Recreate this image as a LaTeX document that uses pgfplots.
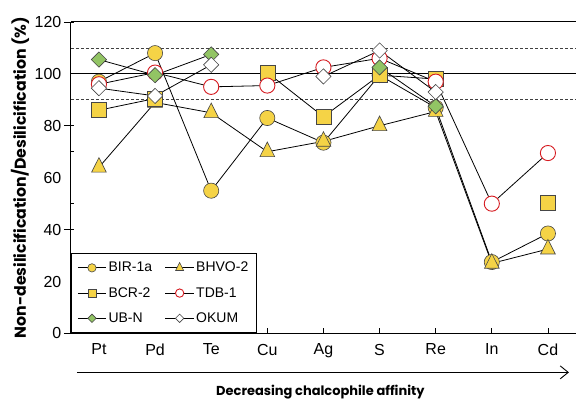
\documentclass[border=0pt]{standalone}
\usepackage{pgfplots}
\pgfplotsset{compat=1.18}
\usepackage{pgfplotstable}
\usetikzlibrary{arrows.meta}
\usepackage{fontspec}
\setmainfont{Liberation Sans}
\newfontfamily\labelfont{Poppins}
\definecolor{myyellow}{RGB}{245,211,70}
\definecolor{mygreen}{RGB}{146,196,100}
\definecolor{myred}{RGB}{214,26,32}
\definecolor{edge}{RGB}{70,70,70}

\pgfplotstableread{
x BIR BHVO BCR TDB UBN OKUM
0 97 64 86 96 105.5 94.5
1 108 89 90.5 100.5 99.5 91.5
2 55 85 nan 95 107.5 103.5
3 83 70 100.5 95.5 nan nan
4 73.5 74 83.5 102.5 nan 99
5 99.5 80 99.5 106 102.5 109
6 87 85.5 98 97 87.5 93
7 27.5 27 nan 50 nan nan
8 38.5 32.5 50.5 69.5 nan nan
}\data

\begin{document}
\begin{tikzpicture}
\begin{axis}[
  scale only axis,
  width=506pt, height=312pt,
  xmin=-0.5, xmax=8.5, ymin=0, ymax=120,
  separate axis lines,
  axis x line*=box, axis y line*=left,
  xtick={0,...,8},
  xticklabels={Pt,Pd,Te,Cu,Ag,S,Re,In,Cd},
  xtick pos=bottom,
  ytick={0,20,...,120},
  minor y tick num=1,
  ytick pos=left,
  tick align=inside,
  major tick length=5pt,
  minor tick length=3pt,
  major y tick style={xshift=-7pt, scale=2},
  axis line style={line width=1pt},
  tick style={black, line width=0.8pt},
  /pgf/number format/assume math mode=true,
  tick label style={font=\fontsize{16}{18}\selectfont},
  xticklabel style={yshift=-7pt},
  yticklabel style={xshift=-6pt},
  every axis y label/.style={at={(axis description cs:-0.1008,0.5)}, rotate=90, anchor=center},
  ylabel={\labelfont\bfseries\fontsize{15.8}{17}\selectfont Non-desilicification/Desilicification (\%)},
  every axis x label/.style={at={(axis description cs:0.494,-0.2003)}, anchor=base},
  xlabel={\labelfont\bfseries\fontsize{13}{15}\selectfont Decreasing chalcophile affinity},
  unbounded coords=jump,
  clip=false,
  legend columns=2,
  legend cell align=left,
  legend style={at={(0,0)}, anchor=south west, draw=black, line width=1pt,
    font=\fontsize{14}{16}\selectfont, inner xsep=6pt, inner ysep=7pt,
    row sep=10pt,
    /tikz/every even column/.append style={column sep=11pt}},
  legend image code/.code={\draw[mark repeat=2,mark phase=2, line width=0.8pt] plot coordinates {(0cm,0cm) (0.5cm,0cm) (1cm,0cm)};},
  legend image post style={every mark/.append style={scale=0.55}},
]
\addplot[forget plot, black, line width=0.8pt] coordinates {(-0.5,100) (8.5,100)};
\addplot[forget plot, black!75, line width=0.8pt, dash pattern=on 3pt off 2pt] coordinates {(-0.5,110) (8.5,110)};
\addplot[forget plot, black!75, line width=0.8pt, dash pattern=on 3pt off 2pt] coordinates {(-0.5,90) (8.5,90)};

\addplot[black, line width=0.8pt, mark=*, mark size=7.6pt, mark options={fill=myyellow, draw=edge, line width=0.6pt}] table[x=x,y=BIR] {\data};
\addlegendentry{BIR-1a}
\addplot[black, line width=0.8pt, mark=triangle*, mark size=8.5pt, mark options={fill=myyellow, draw=edge, line width=0.6pt, yscale=1.15}] table[x=x,y=BHVO] {\data};
\addlegendentry{BHVO-2}
\addplot[black, line width=0.8pt, mark=square*, mark size=7.5pt, mark options={fill=myyellow, draw=edge, line width=0.6pt}] table[x=x,y=BCR] {\data};
\addlegendentry{BCR-2}
\addplot[black, line width=0.8pt, mark=*, mark size=7.6pt, mark options={fill=white, draw=myred, line width=0.9pt}] table[x=x,y=TDB] {\data};
\addlegendentry{TDB-1}
\addplot[black, line width=0.8pt, mark=square*, mark size=5.4pt, mark options={fill=mygreen, draw=edge, line width=0.6pt, rotate=45}] table[x=x,y=UBN] {\data};
\addlegendentry{UB-N}
\addplot[black, line width=0.8pt, mark=square*, mark size=5.4pt, mark options={fill=white, draw=edge, line width=0.6pt, rotate=45}] table[x=x,y=OKUM] {\data};
\addlegendentry{OKUM}

\draw[line width=0.9pt, -{Straight Barb[length=8pt,width=13pt]}] (axis description cs:0.012,-0.125) -- (axis description cs:0.986,-0.125);
\coordinate (SW) at (rel axis cs:0,0);
\coordinate (NE) at (rel axis cs:1,1);
\end{axis}
\pgfresetboundingbox
\path[use as bounding box] (SW) ++(-71pt,-68pt) rectangle (NE) ++(0pt,22pt);
\end{tikzpicture}
\end{document}
